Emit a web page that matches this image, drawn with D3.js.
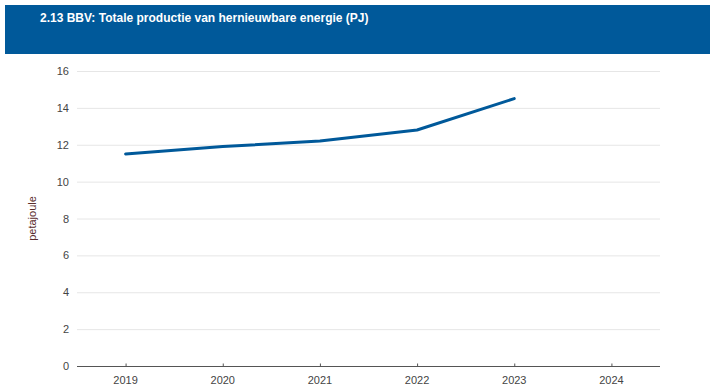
<!DOCTYPE html>
<html><head><meta charset="utf-8">
<script src="https://cdn.jsdelivr.net/npm/d3@7"></script>
<style>body{margin:0;background:#fff;font-family:Arial,"Liberation Sans",sans-serif;}</style>
</head><body><svg id="c" width="715" height="391"></svg>
<script>
const title = "2.13 BBV: Totale productie van hernieuwbare energie (PJ)";
const years = ["2019","2020","2021","2022","2023","2024"];
const values = [11.5, 11.9, 12.2, 12.8, 14.5, null];
const yTicks = [0,2,4,6,8,10,12,14,16];
const yLabel = "petajoule";

(function(){
const svg = d3.select("#c");
svg.append("rect").attr("x",5).attr("y",5).attr("width",705).attr("height",49).attr("fill","#00599a");
svg.append("text").attr("x",40).attr("y",22).attr("fill","#fff").attr("font-size","12px").attr("font-weight","bold").text(title);

const pl=77, pr=660, pt=71, pb=366;
const x = d3.scalePoint().domain(years).range([pl,pr]).padding(0.5);
const y = d3.scaleLinear().domain([0,16]).range([pb,pt]);

// grid
svg.append("g").selectAll("line").data(yTicks.filter(d=>d>0)).join("line")
  .attr("x1",pl).attr("x2",pr).attr("y1",d=>y(d)+0.5).attr("y2",d=>y(d)+0.5)
  .attr("stroke","#e6e6e6").attr("stroke-width",1);

// y labels
svg.append("g").selectAll("text").data(yTicks).join("text")
  .attr("x",69).attr("y",d=>y(d)+4).attr("text-anchor","end")
  .attr("font-size","11px").attr("fill","#444").text(d=>d);

// x axis
const xa = svg.append("g").attr("transform",`translate(0,${pb+0.5})`)
  .call(d3.axisBottom(x).tickSizeInner(-3).tickSizeOuter(0).tickPadding(10));
xa.select(".domain").attr("stroke","#555").attr("d",`M${pl},0H${pr}`);
xa.selectAll(".tick line").attr("stroke","#555");
xa.selectAll(".tick text").attr("font-size","11px").attr("fill","#444").attr("font-family","Arial,'Liberation Sans',sans-serif").attr("dx","-0.5");

// y label
svg.append("text").attr("transform",`translate(36,${(pt+pb)/2}) rotate(-90)`)
  .attr("text-anchor","middle").attr("font-size","11px").attr("fill","#5a2d2d").text(yLabel);

// line
const line = d3.line().defined(d=>d.v!=null).x(d=>x(d.k)).y(d=>y(d.v));
svg.append("path").datum(years.map((k,i)=>({k,v:values[i]})))
  .attr("d",line).attr("fill","none").attr("stroke","#00599a").attr("stroke-width",3)
  .attr("stroke-linecap","round").attr("stroke-linejoin","round");
})();
</script></body></html>
